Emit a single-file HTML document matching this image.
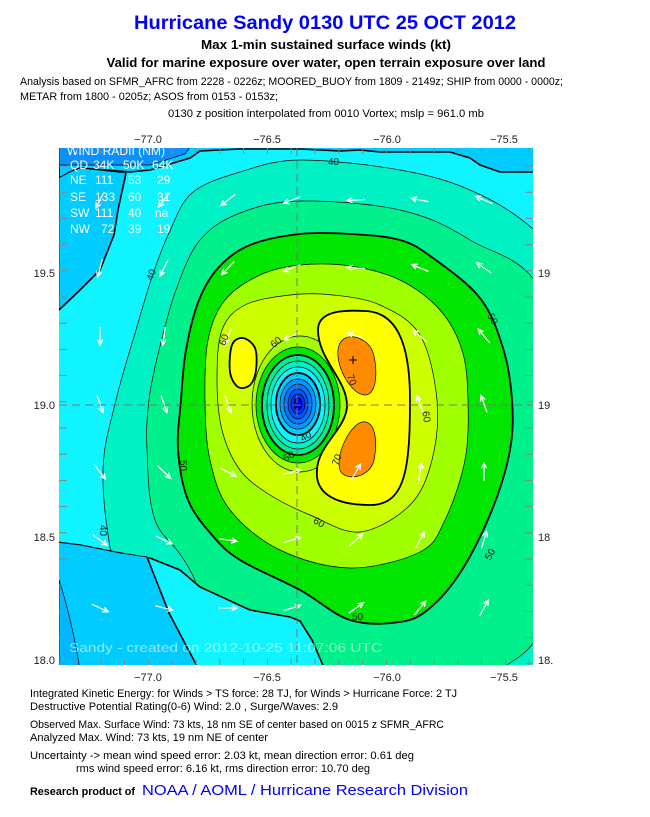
<!DOCTYPE html>
<html><head><meta charset="utf-8"><style>
html,body{margin:0;padding:0;background:#fff;}
svg{display:block;}
text{font-family:"Liberation Sans",sans-serif;}
</style></head><body>
<svg id="s" width="650" height="817" viewBox="0 0 650 817" xmlns="http://www.w3.org/2000/svg">
<defs><clipPath id="cp"><rect x="59" y="148" width="474" height="517"/></clipPath></defs>
<rect width="650" height="817" fill="#fff"/>
<text x="325" y="29" text-anchor="middle" font-size="19" font-weight="bold" fill="#0000ff" textLength="382" lengthAdjust="spacingAndGlyphs">Hurricane Sandy 0130 UTC 25 OCT 2012</text>
<text x="326" y="49" text-anchor="middle" font-size="13" font-weight="bold" textLength="250" lengthAdjust="spacingAndGlyphs">Max 1-min sustained surface winds (kt)</text>
<text x="326" y="67" text-anchor="middle" font-size="13" font-weight="bold" textLength="439" lengthAdjust="spacingAndGlyphs">Valid for marine exposure over water, open terrain exposure over land</text>
<text x="20" y="85" font-size="11" textLength="543" lengthAdjust="spacingAndGlyphs">Analysis based on SFMR_AFRC from 2228 - 0226z; MOORED_BUOY from 1809 - 2149z; SHIP from 0000 - 0000z;</text>
<text x="20" y="100" font-size="11" textLength="258" lengthAdjust="spacingAndGlyphs">METAR from 1800 - 0205z; ASOS from 0153 - 0153z;</text>
<text x="168" y="117" font-size="11" textLength="316" lengthAdjust="spacingAndGlyphs">0130 z position interpolated from 0010 Vortex; mslp = 961.0 mb</text>
<g font-size="11" text-anchor="middle" fill="#222">
<text x="148" y="143">−77.0</text><text x="267" y="143">−76.5</text><text x="387" y="143">−76.0</text><text x="504" y="143">−75.5</text>
<text x="148" y="681">−77.0</text><text x="267" y="681">−76.5</text><text x="387" y="681">−76.0</text><text x="504" y="681">−75.5</text>
</g>
<g font-size="11" fill="#222">
<text x="55" y="277" text-anchor="end">19.5</text><text x="55" y="409" text-anchor="end">19.0</text><text x="55" y="541" text-anchor="end">18.5</text><text x="55" y="664" text-anchor="end">18.0</text>
<text x="538" y="277">19</text><text x="538" y="409">19</text><text x="538" y="541">18</text><text x="538" y="664">18.</text>
</g>
<g clip-path="url(#cp)">
<rect x="59" y="148" width="474" height="517" fill="#10f4ff"/>
<g id="cont"></g>
<g fill="none" stroke="#000" stroke-width="0.7">
<ellipse cx="300" cy="404" rx="48" ry="68" fill="#a0ff00"/>
<ellipse cx="298" cy="405" rx="42" ry="58" fill="#00e600"/>
<ellipse cx="298" cy="405" rx="36" ry="50" fill="#00f08c" stroke-width="1.8"/>
<ellipse cx="298" cy="405" rx="31" ry="44" fill="#00f2c4"/>
<ellipse cx="298" cy="405" rx="27" ry="38" fill="#10f4ff"/>
<ellipse cx="298" cy="404" rx="22" ry="31" fill="#00ccff" stroke-width="1.8"/>
<ellipse cx="298" cy="404" rx="18" ry="25" fill="#0099ff"/>
<ellipse cx="298" cy="404" rx="14" ry="20" fill="#0077ff"/>
<ellipse cx="298" cy="404" rx="10" ry="15" fill="#0055ff"/>
<ellipse cx="298" cy="404" rx="7" ry="10" fill="#0033ff"/>
<ellipse cx="298" cy="404" rx="4" ry="6" fill="#0000ee"/>
</g>
<g id="cont2"></g>
<g id="arr" stroke="#fff" stroke-width="1.3" fill="none"></g>
<g stroke="#777" stroke-width="1" stroke-dasharray="8,5"><line x1="297" y1="148" x2="297" y2="665"/><line x1="59" y1="405" x2="533" y2="405"/></g>
<path d="M349,360h8M353,356v8" stroke="#000" stroke-width="1"/>
<g font-size="10" fill="#222">
<text x="328" y="165">40</text>
<text x="146" y="280" transform="rotate(-70 150 276)">40</text>
<text x="98" y="533" transform="rotate(90 103 530)">40</text>
<text x="488" y="322" transform="rotate(60 493 318)">50</text>
<text x="178" y="468" transform="rotate(90 183 465)">50</text>
<text x="352" y="620">50</text>
<text x="485" y="558" transform="rotate(-60 490 555)">50</text>
<text x="218" y="344" transform="rotate(-70 223 340)">60</text>
<text x="270" y="346" transform="rotate(-40 275 342)">60</text>
<text x="422" y="420" transform="rotate(80 427 416)">60</text>
<text x="314" y="525" transform="rotate(30 318 521)">60</text>
<text x="348" y="382" transform="rotate(70 352 378)">70</text>
<text x="331" y="464" transform="rotate(-70 336 460)">70</text>
<text x="283" y="460" transform="rotate(-30 288 456)">50</text>
<text x="300" y="440" transform="rotate(-30 305 436)">40</text>
</g>
<g fill="#fff" font-size="12">
<text x="67" y="155" font-size="11.5" textLength="98" lengthAdjust="spacingAndGlyphs">WIND RADII  (NM)</text>
<text x="70" y="169">QD</text><text x="93" y="169">34K</text><text x="123" y="169">50K</text><text x="152" y="169">64K</text>
<text x="70" y="184">NE</text><text x="95" y="184">111</text><text x="128" y="184">53</text><text x="157" y="184">29</text>
<text x="70" y="201">SE</text><text x="95" y="201">133</text><text x="128" y="201">60</text><text x="157" y="201">31</text>
<text x="70" y="217">SW</text><text x="95" y="217">111</text><text x="128" y="217">40</text><text x="155" y="217">na</text>
<text x="70" y="233">NW</text><text x="101" y="233">72</text><text x="128" y="233">39</text><text x="157" y="233">19</text>
</g>
<text x="69" y="652" font-family="Liberation Mono,monospace" font-size="12.5" fill="#fff" fill-opacity="0.55" textLength="313" lengthAdjust="spacingAndGlyphs">Sandy - created on 2012-10-25 11:07:06 UTC</text>
<g id="ticks" stroke="#888" stroke-width="1"></g>
</g>
<g font-size="11">
<text x="30" y="697" textLength="427" lengthAdjust="spacingAndGlyphs">Integrated Kinetic Energy: for Winds &gt; TS force: 28 TJ, for Winds &gt; Hurricane Force: 2 TJ</text>
<text x="30" y="710" textLength="308" lengthAdjust="spacingAndGlyphs">Destructive Potential Rating(0-6)   Wind: 2.0 , Surge/Waves: 2.9</text>
<text x="30" y="728" textLength="414" lengthAdjust="spacingAndGlyphs">Observed Max. Surface Wind: 73 kts, 18 nm SE of center based on 0015 z SFMR_AFRC</text>
<text x="30" y="741" textLength="238" lengthAdjust="spacingAndGlyphs">Analyzed Max. Wind: 73 kts, 19 nm  NE of center</text>
<text x="30" y="759" textLength="384" lengthAdjust="spacingAndGlyphs">Uncertainty -&gt; mean wind speed error: 2.03 kt, mean direction error: 0.61 deg</text>
<text x="76" y="772" textLength="294" lengthAdjust="spacingAndGlyphs">rms wind speed error: 6.16 kt, rms direction error: 10.70 deg</text>
<text x="30" y="795" font-weight="bold" textLength="105" lengthAdjust="spacingAndGlyphs">Research product of</text>
<text x="142" y="795" font-size="15" fill="#0000ff" textLength="326" lengthAdjust="spacingAndGlyphs">NOAA / AOML / Hurricane Research Division</text>
</g>
</svg>
<script>
function cr(p){var n=p.length,d="M"+p[0][0]+","+p[0][1];for(var i=0;i<n;i++){var p0=p[(i-1+n)%n],p1=p[i],p2=p[(i+1)%n],p3=p[(i+2)%n];
d+="C"+(p1[0]+(p2[0]-p0[0])/6).toFixed(1)+","+(p1[1]+(p2[1]-p0[1])/6).toFixed(1)+" "+(p2[0]-(p3[0]-p1[0])/6).toFixed(1)+","+(p2[1]-(p3[1]-p1[1])/6).toFixed(1)+" "+p2[0]+","+p2[1];}return d+"Z";}
function poly(p){return "M"+p.map(function(a){return a.join(",")}).join("L")+"Z";}
var NS="http://www.w3.org/2000/svg";
function add(g,d,fill,sw,stroke){var e=document.createElementNS(NS,"path");e.setAttribute("d",d);e.setAttribute("fill",fill||"none");e.setAttribute("stroke",stroke||"#000");e.setAttribute("stroke-width",sw||0.7);document.getElementById(g).appendChild(e);}
// contours
add("cont",cr([[116,400],[136,330],[152,277],[169,233],[192,193],[240,172],[300,160],[400,170],[470,190],[532,228],[600,300],[620,700],[300,720],[140,700],[112,560],[103,470]]),"#00f2c4");
add("cont",cr([[149,400],[159,350],[176,290],[200,240],[240,213],[300,201],[400,210],[470,240],[545,300],[570,500],[545,620],[502,668],[400,710],[260,710],[190,570],[155,520],[147,450]]),"#00f08c");
add("cont",cr([[181,400],[186,350],[199,300],[219,267],[250,245],[300,234],[350,234],[400,240],[433,258],[480,298],[503,348],[512,400],[510,450],[492,510],[462,570],[430,608],[400,622],[350,620],[300,590],[240,560],[212,535],[188,500],[178,450]]),"#00e600",1.8);
add("cont",cr([[205,400],[208,340],[225,300],[260,275],[300,265],[350,266],[400,280],[440,310],[462,350],[468,400],[465,460],[445,520],[420,552],[350,568],[280,550],[230,510],[210,460]]),"#a0ff00");
add("cont",cr([[217,380],[222,330],[245,305],[290,295],[333,295],[380,305],[420,335],[437,400],[432,460],[410,505],[360,532],[310,515],[270,495],[240,470],[222,430]]),"#ccff00");
add("cont",cr([[232,345],[243,338],[255,348],[256,370],[250,385],[238,387],[230,372]]),"#ffff00",1.8);
add("cont2","M318,330C318,310 345,310 365,311C395,312 410,340 410,400C410,470 405,505 370,505C330,505 315,490 317,470C318,445 345,430 347,407C348,380 318,360 318,330Z","#ffff00",1.8);
add("cont2","M338,350C340,330 365,335 372,350C378,365 378,395 365,395C352,395 336,368 338,350Z","#ff8c00",0.7);
add("cont2","M340,470C335,455 350,425 362,422C375,420 378,440 374,460C370,478 345,482 340,470Z","#ff8c00",0.7);
// land
var cuba=[[59,140],[59,178],[70,172],[80,168],[130,172],[150,170],[170,164],[190,158],[200,151],[240,149],[300,149],[340,151],[360,150],[380,152],[420,152],[450,152],[470,158],[480,165],[500,172],[540,172],[540,140]];
add("cont2",poly(cuba),"#00ccff",1.6);
add("cont2","M59,140L59,165L150,165L185,154L195,140Z","#0a90ff",0);
add("cont2",poly([[59,178],[70,172],[80,168],[126,173],[118,210],[114,235],[100,270],[80,290],[59,310]]),"#00ccff",0);
add("cont2","M126,173L118,210L114,235L100,270L80,290L59,310","none",1.6);
var jam=[[55,542],[80,545],[120,553],[150,558],[180,570],[200,587],[250,610],[290,617],[300,621],[312,640],[325,670],[55,670]];
add("cont2",poly(jam),"#10f4ff",1.6);
add("cont2",poly([[55,542],[80,545],[120,553],[147,557],[169,613],[199,670],[55,670]]),"#00ccff",0);
add("cont2","M147,557L169,613L199,670","none",1.6);
add("cont2","M59,580Q72,620 80,670L59,670Z","#00b8ff",0.7);
// arrows
var cx=298,cy=405,A=document.getElementById("arr");
for(var y=200;y<=640;y+=68){for(var x=100;x<=530;x+=64){var dx=x-cx,dy=y-cy,r=Math.sqrt(dx*dx+dy*dy);if(r<60)continue;
var tx=dy/r,ty=-dx/r;tx-=0.35*dx/r;ty-=0.35*dy/r;var m=Math.sqrt(tx*tx+ty*ty);tx/=m;ty/=m;var L=18;
var x0=x-tx*L/2,y0=y-ty*L/2,x1=x+tx*L/2,y1=y+ty*L/2;var hx=-tx*6,hy=-ty*6;
var c=Math.cos(0.45),s=Math.sin(0.45);
var d="M"+x0.toFixed(1)+","+y0.toFixed(1)+"L"+x1.toFixed(1)+","+y1.toFixed(1)+"M"+(x1+hx*c-hy*s).toFixed(1)+","+(y1+hx*s+hy*c).toFixed(1)+"L"+x1.toFixed(1)+","+y1.toFixed(1)+"L"+(x1+hx*c+hy*s).toFixed(1)+","+(y1-hx*s+hy*c).toFixed(1);
var e=document.createElementNS(NS,"path");e.setAttribute("d",d);A.appendChild(e);}}
// ticks
var T=document.getElementById("ticks"),td="";
for(var x=59+18;x<533;x+=23.8){td+="M"+x.toFixed(1)+",148v6M"+x.toFixed(1)+",665v-6";}
for(var y=166;y<665;y+=26.2){td+="M59,"+y.toFixed(1)+"h8M533,"+y.toFixed(1)+"h-8";}
var te=document.createElementNS(NS,"path");te.setAttribute("d",td);T.appendChild(te);
</script>
</body></html>
